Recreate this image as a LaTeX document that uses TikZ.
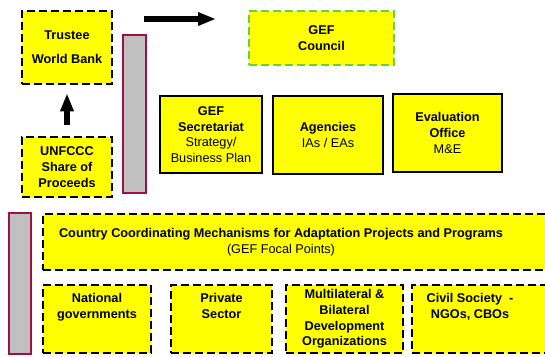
\documentclass[tikz,border=0pt]{standalone}
\usepackage{fontspec}
\setmainfont{Liberation Sans}
\usetikzlibrary{positioning,arrows.meta}
\definecolor{boxyellow}{RGB}{255,255,0}
\definecolor{councilgreen}{RGB}{102,210,51}
\definecolor{barred}{RGB}{160,16,64}
\definecolor{bargray}{RGB}{192,192,192}
\begin{document}
\begin{tikzpicture}[x=1pt, y=-1pt,
    dashbox/.style={draw, fill=boxyellow, line width=2.5pt, dash pattern=on 8pt off 4pt},
    solidbox/.style={draw, fill=boxyellow, line width=2.5pt},
    greenbox/.style={draw=councilgreen, fill=boxyellow, line width=2.5pt, dash pattern=on 8pt off 4pt},
    bar/.style={draw=barred, fill=bargray, line width=1.5pt},
    txt/.style={align=center, inner sep=0pt, font=\fontsize{12.7}{15.7}\selectfont\bfseries},
    bigarrow/.style={line width=5.5pt, -{Triangle[length=18pt, width=12.5pt]}}]
    \useasboundingbox (0,0) rectangle (545,356);
    \draw[bar] (123,35) rectangle (146,193);
    \draw[bar] (9,213) rectangle (31,354);
    \node[dashbox, txt, minimum width=90, minimum height=73] (trustee) at (67,47.5) {Trustee\\[8.3pt]World Bank};
    \node[dashbox, txt, minimum width=90, minimum height=60] (unfccc) at (67,167) {UNFCCC\\Share of\\Proceeds};
    \node[greenbox, txt, minimum width=145, minimum height=54] (council) at (321.5,38) {GEF\\Council};
    \node[solidbox, txt, minimum width=102, minimum height=77] (secr) at (211,134.5) {GEF\\Secretariat\\\textmd{Strategy/}\\\textmd{Business Plan}};
    \node[solidbox, txt, minimum width=110, minimum height=78] (agency) at (328,135) {Agencies\\\textmd{IAs / EAs}};
    \node[solidbox, txt, minimum width=109, minimum height=78] (evaloff) at (447.5,133) {Evaluation\\Office\\\textmd{M\&E}};
    \node[dashbox, minimum width=517, minimum height=56] (country) at (301.5,242) {};
    \node[txt, xshift=-20.5pt] (countrytxt) at (country.center) {Country Coordinating Mechanisms for Adaptation Projects and Programs\\\textmd{(GEF Focal Points)}};
    \node[dashbox, minimum width=108, minimum height=68] (natgov) at (97,319) {};
    \node[dashbox, minimum width=101, minimum height=68] (privsec) at (221.5,319) {};
    \node[dashbox, minimum width=117, minimum height=68] (multi) at (344.5,319) {};
    \node[dashbox, minimum width=148, minimum height=68] (civil) at (486,319) {};
    \node[txt, below=9.5pt of natgov.north] (nattxt) {National\\governments};
    \node[txt, below=9.5pt of privsec.north] (privtxt) {Private\\Sector};
    \node[txt] (multitxt) at (multi.center) {Multilateral \&\\Bilateral\\Development\\Organizations};
    \node[txt, below=9.5pt of civil.north, xshift=-16pt] (civiltxt) {Civil Society~~-\\NGOs, CBOs};
    \coordinate (arrfrom) at (144,19);
    \coordinate (arrto) at (216,19);
    \draw[bigarrow] (arrfrom) -- (arrto);
    \draw[bigarrow, shorten <=11pt, shorten >=8pt] (unfccc) -- (trustee);
\end{tikzpicture}
\end{document}
